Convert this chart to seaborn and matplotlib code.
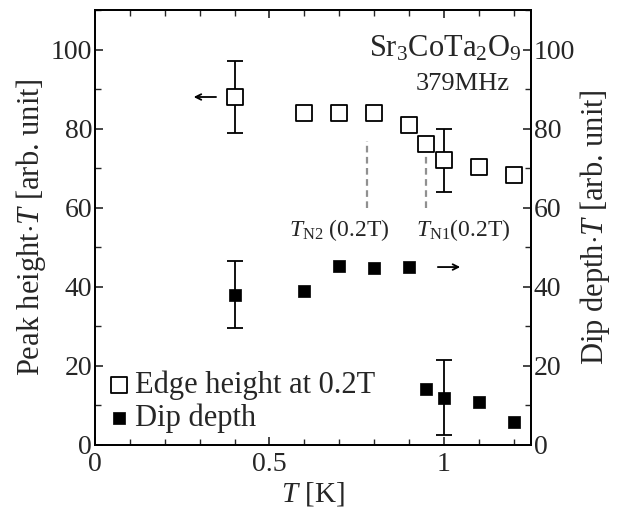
import matplotlib
matplotlib.use("Agg")
import matplotlib.pyplot as plt
import seaborn as sns
import pandas as pd
import numpy as np
from matplotlib.ticker import MultipleLocator

# ---- data ----
T_edge = [0.4, 0.6, 0.7, 0.8, 0.9, 0.95, 1.0, 1.1, 1.2]
edge_height = [88, 84, 84, 84, 81, 76, 72, 70.3, 68.4]
T_dip = [0.4, 0.6, 0.7, 0.8, 0.9, 0.95, 1.0, 1.1, 1.2]
dip_depth = [38, 39, 45.3, 44.8, 44.9, 14.1, 11.9, 10.9, 5.8]
err_edge_T = [0.4, 1.0]
err_edge_y = [88, 72]
err_edge_e = [9, 8]
err_dip_T = [0.4, 1.0]
err_dip_y = [38, 12]
err_dip_e = [8.5, 9.5]
TN2 = 0.78
TN1 = 0.95

sns.set_style("ticks")
plt.rcParams['font.family'] = ['Liberation Serif', 'DejaVu Serif']
plt.rcParams['mathtext.fontset'] = 'custom'
plt.rcParams['mathtext.rm'] = 'Liberation Serif'
plt.rcParams['mathtext.it'] = 'Liberation Serif:italic'

fig = plt.figure(figsize=(6.18, 5.14), dpi=100)
ax = fig.add_axes([95/618, 1-445/514, (531-95)/618, (445-10)/514])

df_edge = pd.DataFrame({"T": T_edge, "v": edge_height})
df_dip = pd.DataFrame({"T": T_dip, "v": dip_depth})

ax.errorbar(err_edge_T, err_edge_y, yerr=err_edge_e, fmt='none', ecolor='black',
            elinewidth=1.3, capsize=6, capthick=1.3, zorder=2)
ax.errorbar(err_dip_T, err_dip_y, yerr=err_dip_e, fmt='none', ecolor='black',
            elinewidth=1.3, capsize=6, capthick=1.3, zorder=2)

sns.scatterplot(data=df_edge, x="T", y="v", marker='s', s=120, facecolor='white',
                edgecolor='black', linewidth=1.3, ax=ax, zorder=3,
                label='Edge height at 0.2T')
sns.scatterplot(data=df_dip, x="T", y="v", marker='s', s=80, color='black',
                edgecolor='black', linewidth=0.5, ax=ax, zorder=3, label='Dip depth')

ax.vlines([TN2], 60, 77, colors='#909090', linestyles=(0, (3, 2)), linewidth=1.6)
ax.vlines([TN1], 60, 73, colors='#909090', linestyles=(0, (3, 2)), linewidth=1.6)

ax.set_xlim(0, 1.25)
ax.set_ylim(0, 110)
ax.xaxis.set_major_locator(MultipleLocator(0.5))
ax.xaxis.set_minor_locator(MultipleLocator(0.1))
ax.yaxis.set_major_locator(MultipleLocator(20))
ax.yaxis.set_minor_locator(MultipleLocator(10))
ax.set_xticks([0, 0.5, 1])
ax.set_xticklabels(['0', '0.5', '1'])
ax.tick_params(which='both', direction='in', top=True, right=False, labelsize=20, pad=2)
ax.tick_params(axis='x', pad=5)
ax.tick_params(which='major', length=6, width=1.2)
ax.tick_params(which='minor', length=4, width=1.0)

ax2 = ax.twinx()
ax2.set_ylim(0, 110)
ax2.yaxis.set_major_locator(MultipleLocator(20))
ax2.yaxis.set_minor_locator(MultipleLocator(10))
ax2.tick_params(which='both', direction='in', labelsize=20, pad=2)
ax2.tick_params(which='major', length=6, width=1.2)
ax2.tick_params(which='minor', length=4, width=1.0)

for a in (ax, ax2):
    for sp in a.spines.values():
        sp.set_linewidth(1.3)
        sp.set_color('black')

ax.set_xlabel(r'$T$ [K]', fontsize=21, labelpad=2)
ax.set_ylabel(r'Peak height$\cdot T$ [arb. unit]', fontsize=22, labelpad=2)
ax2.set_ylabel(r'Dip depth$\cdot T$ [arb. unit]', fontsize=22, labelpad=2)

ax.text(1.222, 100.3, r'Sr$_3$CoTa$_2$O$_9$', fontsize=22, ha='right', va='center')
ax.text(1.19, 91.4, '379MHz', fontsize=19, ha='right', va='center')
ax.text(0.70, 54.3, r'$T_{\mathrm{N2}}$ (0.2T)', fontsize=17, ha='center', va='center')
ax.text(1.057, 54.3, r'$T_{\mathrm{N1}}$(0.2T)', fontsize=17, ha='center', va='center')
ax.annotate('', xy=(0.275, 88), xytext=(0.355, 88),
            arrowprops=dict(arrowstyle='->', lw=1.3, color='black'))
ax.annotate('', xy=(1.055, 45), xytext=(0.975, 45),
            arrowprops=dict(arrowstyle='->', lw=1.3, color='black'))

leg = ax.legend(loc='lower left', bbox_to_anchor=(-0.03, -0.022), frameon=False,
                fontsize=22, handletextpad=0.05, labelspacing=0.12, borderaxespad=0.3,
                handlelength=1.0)

fig.savefig("out.png", dpi=100)
